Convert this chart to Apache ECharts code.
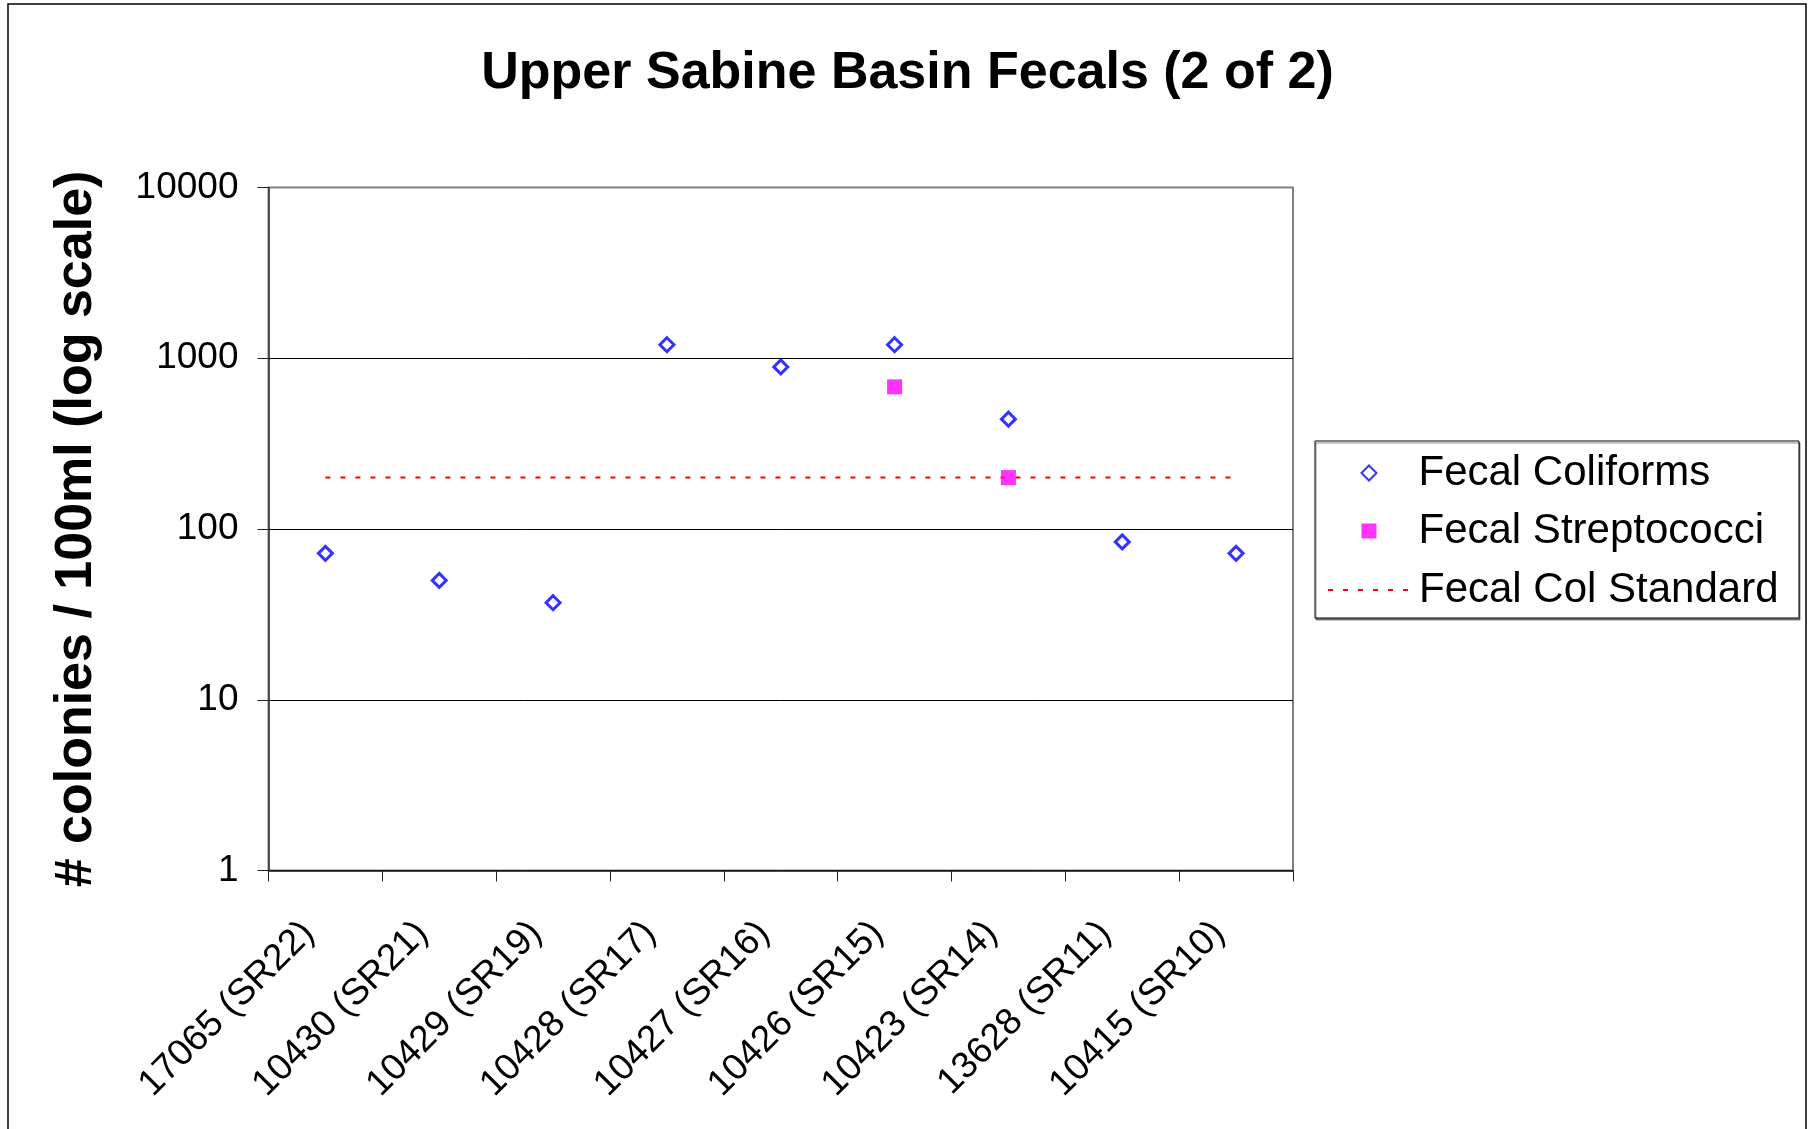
<!DOCTYPE html>
<html>
<head>
<meta charset="utf-8">
<title>Upper Sabine Basin Fecals (2 of 2)</title>
<script src="https://cdn.jsdelivr.net/npm/echarts@6/dist/echarts.min.js"></script>
<style>
    html, body { margin: 0; padding: 0; background: #fff; }
    #chart { width: 1815px; height: 1129px; }
</style>
</head>
<body>
<div id="chart"></div>
<script>
// station labels along the x axis
var stations = ['17065 (SR22)', '10430 (SR21)', '10429 (SR19)', '10428 (SR17)', '10427 (SR16)',
    '10426 (SR15)', '10423 (SR14)', '13628 (SR11)', '10415 (SR10)']
// colonies / 100ml
var fecalColiforms = [72, 50, 37, 1200, 890, 1200, 440, 84, 72]
var fecalStrep = [null, null, null, null, null, 680, 200, null, null]
var fecalStandard = [200, 200, 200, 200, 200, 200, 200, 200, 200]
var yTicks = [1, 10, 100, 1000, 10000]

var font = 'Liberation Sans, Arial, sans-serif'
var legendText = {
    fontFamily: font,
    fontSize: 42,
    lineHeight: 42,
    color: '#000'
}

var chart = echarts.init(document.getElementById('chart'))
chart.setOption({
    animation: false,
    backgroundColor: '#fff',
    title: {
        text: 'Upper Sabine Basin Fecals (2 of 2)',
        left: 'center',
        top: 48,
        padding: 0,
        textStyle: {
            fontFamily: font,
            fontSize: 52,
            fontWeight: 'bold',
            color: '#000',
            lineHeight: 52
        }
    },
    graphic: [{
        // outer chart frame
        type: 'rect',
        shape: { x: 8, y: 4, width: 1798, height: 1140 },
        style: { fill: 'none', stroke: '#000', lineWidth: 1.5 },
        silent: true
    }, {
        // legend frame (two legends sit inside it)
        type: 'rect',
        shape: { x: 1315, y: 441, width: 484, height: 177 },
        style: {
            fill: '#fff', stroke: '#000', lineWidth: 1,
            shadowColor: 'rgba(0,0,0,0.45)', shadowOffsetX: 1, shadowOffsetY: 2, shadowBlur: 0
        },
        z: 0,
        silent: true
    }],
    legend: [{
        orient: 'vertical',
        left: 1360.5,
        top: 452,
        padding: 0,
        itemWidth: 15,
        itemHeight: 15,
        itemGap: 16,
        data: ['Fecal Coliforms', 'Fecal Streptococci'],
        textStyle: Object.assign({ padding: [0, 0, 0, 37] }, legendText)
    }, {
        orient: 'vertical',
        left: 1327,
        top: 569,
        padding: 0,
        itemWidth: 81,
        itemHeight: 15,
        itemStyle: { opacity: 0 },
        data: ['Fecal Col Standard'],
        textStyle: Object.assign({ padding: [0, 0, 0, 5] }, legendText)
    }],
    grid: {
        left: 268.5,
        right: 522,
        top: 187.5,
        bottom: 258.5,
        show: true,
        borderColor: '#808080',
        borderWidth: 2
    },
    xAxis: {
        type: 'category',
        data: stations,
        boundaryGap: true,
        axisLine: { lineStyle: { color: '#222', width: 1.5 } },
        axisTick: { show: true, inside: false, length: 11, alignWithLabel: false, lineStyle: { color: '#222' } },
        axisLabel: {
            interval: 0,
            rotate: 45,
            margin: 40,
            padding: [0, 24, 0, 0],
            fontFamily: font,
            fontSize: 37,
            color: '#000'
        },
        splitLine: { show: false }
    },
    yAxis: {
        type: 'log',
        logBase: 10,
        min: yTicks[0],
        max: yTicks[yTicks.length - 1],
        name: '# colonies / 100ml (log scale)',
        nameLocation: 'middle',
        nameGap: 166,
        nameTextStyle: {
            fontFamily: font,
            fontSize: 52,
            fontWeight: 'bold',
            color: '#000',
            lineHeight: 52
        },
        axisLine: { show: true, lineStyle: { color: '#333', width: 1.5 } },
        axisTick: { show: true, inside: false, length: 11, lineStyle: { color: '#222' } },
        minorTick: { show: false },
        axisLabel: {
            margin: 30,
            fontFamily: font,
            fontSize: 37,
            color: '#000',
            formatter: function (v) {
                return String(Math.round(v))
            }
        },
        splitLine: {
            show: true,
            lineStyle: { color: ['#000', '#000', '#000', '#000', '#808080'], width: 1 }
        }
    },
    series: [{
        name: 'Fecal Col Standard',
        type: 'line',
        data: fecalStandard,
        symbol: 'none',
        z: 1,
        lineStyle: { color: '#ff0000', width: 2, type: [5, 10] },
        itemStyle: { color: '#ff0000' }
    }, {
        name: 'Fecal Coliforms',
        type: 'scatter',
        data: fecalColiforms,
        symbol: 'diamond',
        symbolSize: 14,
        z: 3,
        itemStyle: { color: '#fff', borderColor: '#0000ff', borderWidth: 3 }
    }, {
        name: 'Fecal Streptococci',
        type: 'scatter',
        data: fecalStrep.map(function (v) { return v === null ? '-' : v }),
        symbol: 'rect',
        symbolSize: 15,
        z: 4,
        itemStyle: { color: '#ff00ff' }
    }]
})
</script>
</body>
</html>
